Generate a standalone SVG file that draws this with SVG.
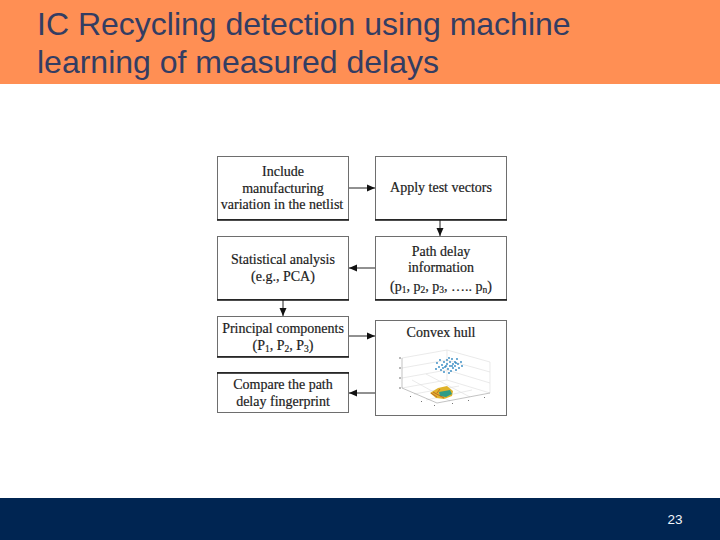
<svg xmlns="http://www.w3.org/2000/svg" width="720" height="540" viewBox="0 0 720 540">
<style>
.t{font-family:"Liberation Sans",Arial,sans-serif;font-size:32px;fill:#333d63}
.b{fill:#fff;stroke:#6e6e6e;stroke-width:1}
.e{stroke:#111;stroke-width:1.6}
.l{font-family:"Liberation Serif","Times New Roman",serif;font-size:14px;fill:#1c1c1c;text-anchor:middle;stroke:#1c1c1c;stroke-width:.2}
.c{stroke:#222;stroke-width:1;fill:none;marker-end:url(#a)}
.s{font-size:9.500px}
.p circle{r:.9px;fill:#2f86c0}
.k{stroke:#777;stroke-width:1;fill:none}
</style>
<defs><marker id="a" markerUnits="userSpaceOnUse" markerWidth="9" markerHeight="8" refX="8" refY="4" orient="auto"><path d="M0 0.500L8 4L0 7.500Z" fill="#111"/></marker></defs>
<rect width="720" height="84" fill="#ff8f54"/>
<rect y="498" width="720" height="42" fill="#002552"/>
<text class="t" x="37" y="35">IC Recycling detection using machine</text>
<text class="t" x="37" y="73">learning of measured delays</text>
<text x="675" y="524" font-family="Liberation Sans,Arial,sans-serif" font-size="13.5" fill="#f2f5fa" text-anchor="middle">23</text>
<g id="connectors">
<path class="c" d="M349 188H375"/><path class="c" d="M440 220V236"/><path class="c" d="M375 268H349"/><path class="c" d="M283 300V316"/><path class="c" d="M349 336H375"/><path class="c" d="M375 393H349"/>
</g>
<g id="n1"><rect class="b" x="217.500" y="156.500" width="131" height="63"/><path class="e" d="M217 220H349"/><text class="l" x="283" y="176">Include</text><text class="l" x="283" y="193">manufacturing</text><text class="l" x="282" y="209">variation in the netlist</text></g>
<g id="n2"><rect class="b" x="375.500" y="156.500" width="131" height="63"/><path class="e" d="M375 220H507"/><text class="l" x="441" y="192">Apply test vectors</text></g>
<g id="n3"><rect class="b" x="217.500" y="236.500" width="131" height="63"/><path class="e" d="M217 300H349"/><text class="l" x="283" y="264">Statistical analysis</text><text class="l" x="283" y="281">(e.g., PCA)</text></g>
<g id="n4"><rect class="b" x="375.500" y="236.500" width="131" height="63"/><path class="e" d="M375 300H507"/><text class="l" x="441" y="256">Path delay</text><text class="l" x="441" y="272">information</text><text class="l" x="441" y="291">(p<tspan class="s" dy="2">1</tspan><tspan dy="-2">, p</tspan><tspan class="s" dy="2">2</tspan><tspan dy="-2">, p</tspan><tspan class="s" dy="2">3</tspan><tspan dy="-2">, ….. p</tspan><tspan class="s" dy="2">n</tspan><tspan dy="-2">)</tspan></text></g>
<g id="n5"><rect class="b" x="217.500" y="316.500" width="131" height="40"/><path class="e" d="M217 357H349"/><text class="l" x="283" y="333">Principal components</text><text class="l" x="283" y="350">(P<tspan class="s" dy="2">1</tspan><tspan dy="-2">, P</tspan><tspan class="s" dy="2">2</tspan><tspan dy="-2">, P</tspan><tspan class="s" dy="2">3</tspan><tspan dy="-2">)</tspan></text></g>
<g id="n6"><rect class="b" x="217.500" y="372.500" width="131" height="40"/><path class="e" d="M217 373H349"/><text class="l" x="283" y="389">Compare the path</text><text class="l" x="283" y="406">delay fingerprint</text></g>
<g id="n7"><rect class="b" x="375.500" y="320.500" width="131" height="95"/><text class="l" x="441" y="337">Convex hull</text>
<path fill="none" stroke="#dcdcdc" stroke-width=".6" d="M402 358L447 350 490 362V393M447 350V380L402 388M447 380L490 393M402 368L447 360 490 372M402 378L447 370 490 383M414 394L459 386M426 400L472 390M450 401L412 380M470 397L426 374"/>
<path fill="none" stroke="#9a9a9a" stroke-width=".6" d="M402 358V388L437 403 490 393"/>
<path class="k" d="M399 358h2M399 368h2M399 378h2M399 388h2M410 396l1 1M421 401l1 1M434 405l1 1M452 403l1 1M468 400l1 1M484 397l1 1"/>
<g class="p"><circle cx="437" cy="363"/><circle cx="440" cy="360"/><circle cx="436" cy="369"/><circle cx="439" cy="367"/><circle cx="442" cy="365"/><circle cx="441" cy="370"/><circle cx="444" cy="362"/><circle cx="445" cy="367"/><circle cx="444" cy="372"/><circle cx="447" cy="364"/><circle cx="448" cy="369"/><circle cx="447" cy="360"/><circle cx="450" cy="366"/><circle cx="450" cy="362"/><circle cx="451" cy="371"/><circle cx="452" cy="359"/><circle cx="453" cy="364"/><circle cx="453" cy="368"/><circle cx="455" cy="362"/><circle cx="455" cy="366"/><circle cx="456" cy="370"/><circle cx="457" cy="359"/><circle cx="458" cy="364"/><circle cx="459" cy="368"/><circle cx="461" cy="362"/><circle cx="462" cy="366"/><circle cx="446" cy="366"/><circle cx="449" cy="373"/><circle cx="443" cy="368"/><circle cx="452" cy="366"/><circle cx="456" cy="363"/><circle cx="449" cy="358"/></g>
<path d="M430 393L438 388 447 386 453 391 452 396 444 399 436 398Z" fill="#e0b32a"/><path d="M439 392L450 390 452 394 446 397 440 396Z" fill="#2f9c86"/><path d="M431 393L437 397M433 392L444 398M440 389L437 393" stroke="#b5562a" stroke-width=".8" fill="none"/>
</g>
</svg>
